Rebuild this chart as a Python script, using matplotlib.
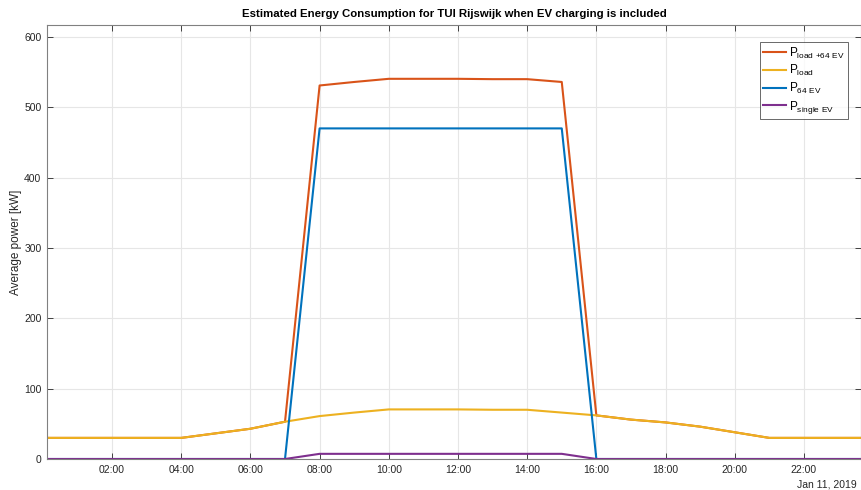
import matplotlib
matplotlib.use("Agg")
import matplotlib.pyplot as plt
import numpy as np

hours = list(range(0, 25))
p_load = [30, 30, 30, 30, 30, 36.5, 43, 53, 61, 66, 70.5, 70.5, 70.5, 70, 70, 66,
          62, 56, 52, 46, 38, 30, 30, 30, 30]
p_64ev = [0, 0, 0, 0, 0, 0, 0, 0, 470, 470, 470, 470, 470, 470, 470, 470,
          0, 0, 0, 0, 0, 0, 0, 0, 0]
p_load_64ev = [30, 30, 30, 30, 30, 36.5, 43, 53, 531, 536, 540.5, 540.5, 540.5, 540, 540, 536,
               62, 56, 52, 46, 38, 30, 30, 30, 30]
p_single = [0, 0, 0, 0, 0, 0, 0, 0, 7.34, 7.34, 7.34, 7.34, 7.34, 7.34, 7.34, 7.34,
            0, 0, 0, 0, 0, 0, 0, 0, 0]
xtick_hours = [2, 4, 6, 8, 10, 12, 14, 16, 18, 20, 22]
xtick_labels = ["02:00", "04:00", "06:00", "08:00", "10:00", "12:00", "14:00",
                "16:00", "18:00", "20:00", "22:00"]
yticks = [0, 100, 200, 300, 400, 500, 600]
labels = [r"$\mathregular{P_{load\ {+}64\ EV}}$", r"$\mathregular{P_{load}}$",
          r"$\mathregular{P_{64\ EV}}$", r"$\mathregular{P_{single\ EV}}$"]
colors = ["#D95319", "#EDB120", "#0072BD", "#7E2F8E"]

plt.rcParams['font.family'] = ['Liberation Sans', 'DejaVu Sans']
plt.rcParams['mathtext.fontset'] = 'custom'
plt.rcParams['mathtext.rm'] = 'Liberation Sans'

W, H = 861, 490
fig = plt.figure(figsize=(W / 100, H / 100), dpi=100)
ax = fig.add_axes([47 / W, (H - 459) / H, (861 - 47) / W, (459 - 25) / H])

series = [p_load_64ev, p_load, p_64ev, p_single]
for s, c, l in zip(series, colors, labels):
    ax.plot(hours, s, color=c, lw=1.5, label=l, clip_on=True)

ax.set_xlim(0.12, 23.65)
ax.set_ylim(0, 617)
ax.set_xticks(xtick_hours)
ax.set_xticklabels(xtick_labels)
ax.set_yticks(yticks)
ax.grid(True, color="#e6e6e6", lw=0.8)
ax.set_axisbelow(True)
ax.tick_params(direction='in', length=4, width=0.6, color="#262626",
               labelsize=7.5, labelcolor="#262626", top=True, right=True, pad=4)
for sp in ax.spines.values():
    sp.set_color("#808080")
    sp.set_linewidth(0.8)
ax.set_ylabel("Average power [kW]", fontsize=8.5, color="#262626", labelpad=1.5)
ax.set_title("Estimated Energy Consumption for TUI Rijswijk when EV charging is included",
             fontsize=8.2, fontweight='bold', color="black", pad=6)

leg = ax.legend(loc='upper right', bbox_to_anchor=(1 - 13 / 814, 1 - 17 / 434),
                fontsize=8.5, frameon=True, fancybox=False, borderpad=0.3,
                handlelength=1.9, handletextpad=0.25, labelspacing=0.22,
                borderaxespad=0)
leg.get_frame().set_edgecolor("#262626")
leg.get_frame().set_linewidth(0.6)

fig.text(857 / W, 1 - 484 / H, "Jan 11, 2019", ha='right', va='center',
         fontsize=7.5, color="#262626")

fig.savefig("out.png", dpi=100)
